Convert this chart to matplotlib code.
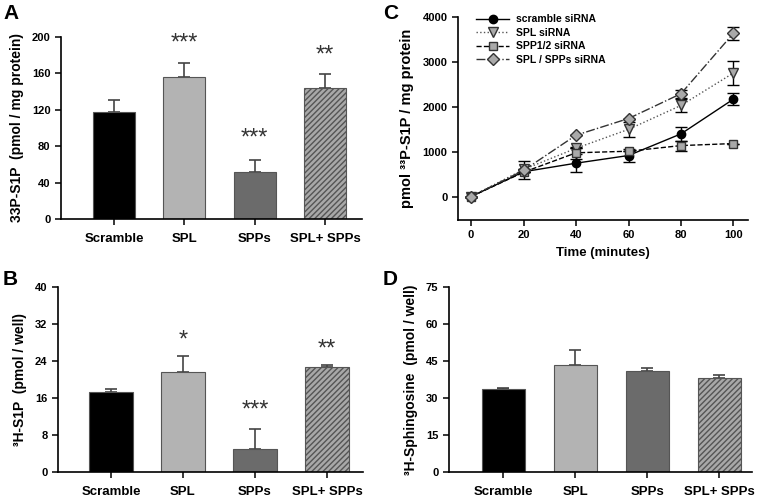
import numpy as np
import matplotlib.pyplot as plt
from matplotlib.lines import Line2D

plt.rcParams['font.family'] = ['Liberation Sans', 'DejaVu Sans']
plt.rcParams['font.weight'] = 'bold'
plt.rcParams['axes.labelweight'] = 'bold'
plt.rcParams['hatch.linewidth'] = 1.0

# ---- data ----
groups = ['Scramble', 'SPL', 'SPPs', 'SPL+ SPPs']

a_vals = [118, 156, 52, 144]
a_err = [13, 15, 13, 15]
a_stars = ['', '***', '***', '**']
a_star_y = [0, 193, 88, 180]

b_vals = [17.3, 21.6, 4.9, 22.6]
b_err = [0.6, 3.5, 4.3, 0.5]
b_stars = ['', '*', '***', '**']
b_star_y = [0, 28.5, 13.2, 26.5]

d_vals = [33.5, 43.3, 40.8, 38.0]
d_err = [0.7, 6.0, 1.2, 1.3]

time_min = [0, 20, 40, 60, 80, 100]
scr = [20, 570, 760, 930, 1410, 2180]
scr_err = [0, 0, 200, 150, 150, 130]
spl = [20, 620, 1090, 1510, 2040, 2760]
spl_err = [0, 0, 0, 160, 135, 260]
spp = [20, 560, 990, 1025, 1150, 1195]
spp_err = [0, 0, 130, 0, 110, 0]
both = [20, 600, 1380, 1750, 2300, 3640]
both_err = [0, 200, 0, 0, 90, 140]
series_names = ['scramble siRNA', 'SPL siRNA', 'SPP1/2 siRNA', 'SPL / SPPs siRNA']

bar_colors = ['#000000', '#b3b3b3', '#6b6b6b', '#a8a8a8']
bar_hatch = [None, None, None, '//////']

fig = plt.figure(figsize=(7.57, 4.97), dpi=100)


def style_axes(ax):
    for s in ['top', 'right']:
        ax.spines[s].set_visible(False)
    for s in ['left', 'bottom']:
        ax.spines[s].set_linewidth(1.2)
    ax.tick_params(direction='out', length=4, width=1.1, labelsize=8)


def bar_panel(rect, vals, errs, ylim, yticks, ylabel, xlim, stars=None, star_y=None):
    ax = fig.add_axes(rect)
    x = np.arange(len(vals))
    for i in range(len(vals)):
        ax.bar(x[i], vals[i], width=0.6, color=bar_colors[i], edgecolor='#555555',
               linewidth=0.8, hatch=bar_hatch[i], zorder=2)
        ax.errorbar(x[i], vals[i], yerr=[[0], [errs[i]]], fmt='none', ecolor='#444444',
                    elinewidth=1.2, capsize=4, capthick=1.2, zorder=1)
    if stars:
        for i, s in enumerate(stars):
            if s:
                ax.text(x[i], star_y[i], s, ha='center', va='center', fontsize=17,
                        color='#333333', fontweight='normal')
    style_axes(ax)
    ax.set_xlim(*xlim)
    ax.set_ylim(*ylim)
    ax.set_yticks(yticks)
    ax.set_xticks(x)
    ax.set_xticklabels(groups, fontsize=9.5)
    ax.tick_params(axis='x', pad=6)
    ax.set_ylabel(ylabel, fontsize=10, labelpad=6)
    return ax


# A
bar_panel([0.0806, 0.5594, 0.398, 0.3662], a_vals, a_err, (0, 200), [0, 40, 80, 120, 160, 200],
          '33P-S1P  (pmol / mg protein)', (-0.754, 3.53), a_stars, a_star_y)
# B
bar_panel([0.0766, 0.0503, 0.4029, 0.3722], b_vals, b_err, (0, 40), [0, 8, 16, 24, 32, 40],
          '³H-S1P  (pmol / well)', (-0.736, 3.5), b_stars, b_star_y)
# D
bar_panel([0.593, 0.0503, 0.400, 0.3722], d_vals, d_err, (0, 75), [0, 15, 30, 45, 60, 75],
          '³H-Sphingosine  (pmol / well)', (-0.757, 3.45))

# C time course
axc = fig.add_axes([0.605, 0.5573, 0.383, 0.4085])
mk_gray = '#a9a9a9'
styles = [
    dict(color='black', ls='-', marker='o', ms=6, mfc='black', mec='black'),
    dict(color='#555555', ls=':', marker='v', ms=7, mfc=mk_gray, mec='#333333'),
    dict(color='black', ls='--', marker='s', ms=6, mfc=mk_gray, mec='#333333'),
    dict(color='#333333', ls='-.', marker='D', ms=6, mfc=mk_gray, mec='#333333'),
]
for ys, es, st in zip([scr, spl, spp, both], [scr_err, spl_err, spp_err, both_err], styles):
    axc.errorbar(time_min, ys, yerr=es, lw=1.0, capsize=4, ecolor='black', elinewidth=1, **st)
style_axes(axc)
axc.set_xlim(-5, 105.5)
axc.set_ylim(-500, 4000)
axc.set_xticks([0, 20, 40, 60, 80, 100])
axc.set_yticks([0, 1000, 2000, 3000, 4000])
axc.set_xlabel('Time (minutes)', fontsize=9.5, labelpad=5)
axc.set_ylabel('pmol ³³P-S1P / mg protein', fontsize=10.5, labelpad=6)
handles = [Line2D([], [], lw=1.0, **st) for st in styles]
axc.legend(handles, series_names, loc='upper left', bbox_to_anchor=(0.03, 1.06), frameon=False,
           fontsize=7.5, handlelength=3.2, labelspacing=0.35, handletextpad=0.6)

# panel letters
for lbl, (px, py) in zip('ABCD', [(3, 4), (3, 270), (383, 4), (383, 270)]):
    fig.text(px / 757, 1 - py / 497, lbl, fontsize=15, fontweight='bold', va='top', ha='left')

fig.savefig('out.png', dpi=100)
